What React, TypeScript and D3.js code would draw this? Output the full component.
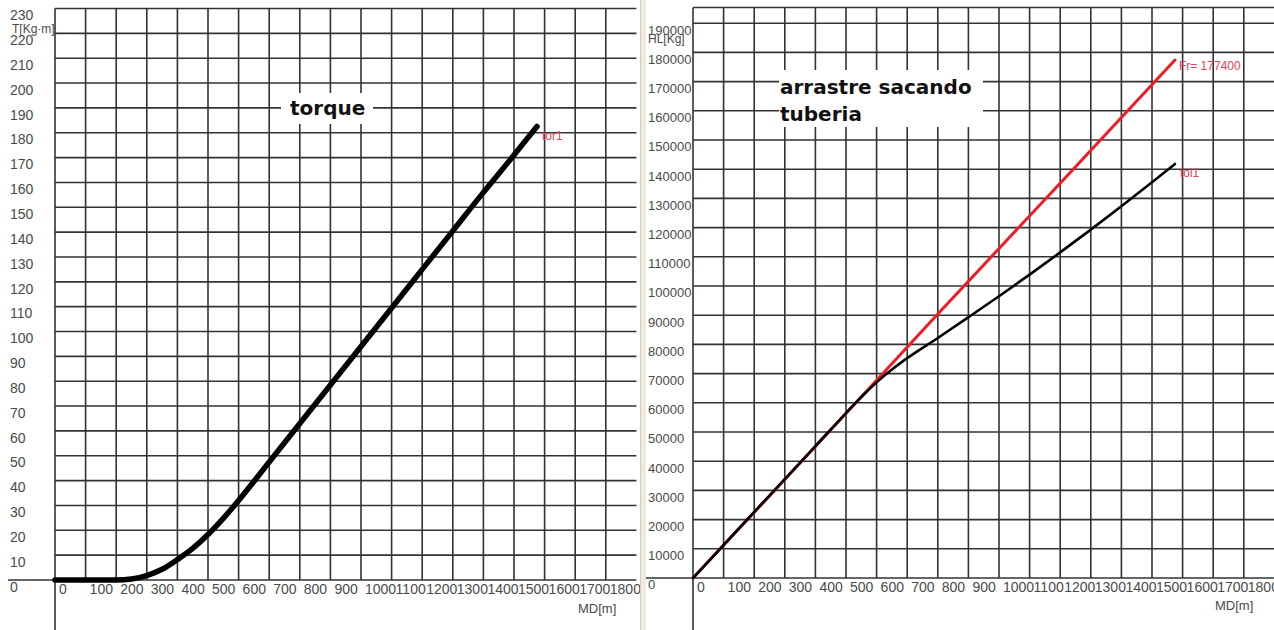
import React from "react";
import * as d3 from "d3";

// ---------- data ----------
const mdTicks = [0, 100, 200, 300, 400, 500, 600, 700, 800, 900, 1000, 1100, 1200, 1300, 1400, 1500, 1600, 1700, 1800];
const torqueTicks = [0, 10, 20, 30, 40, 50, 60, 70, 80, 90, 100, 110, 120, 130, 140, 150, 160, 170, 180, 190, 200, 210, 220, 230];
const hookTicks = [0, 10000, 20000, 30000, 40000, 50000, 60000, 70000, 80000, 90000, 100000, 110000, 120000, 130000, 140000, 150000, 160000, 170000, 180000, 190000];

const torqueMd = [0, 100, 200, 250, 300, 350, 400, 450, 500, 550, 600, 700, 800, 900, 1000, 1100, 1200, 1300, 1400, 1500, 1575];
const torqueVal = [0, 0, 0, 0.4, 1.8, 4.3, 8.2, 12.7, 18.3, 24.8, 32, 47.5, 63, 78.5, 94, 109.5, 125, 140.5, 156, 171, 182.5];

const dragMd = [0, 100, 200, 300, 400, 500, 550, 600, 650, 700, 800, 900, 1000, 1100, 1200, 1300, 1400, 1500, 1575];
const dragVal = [0, 11300, 22600, 33900, 45200, 56500, 62000, 67000, 71400, 75300, 82200, 89300, 96500, 103900, 111500, 119300, 127300, 135500, 141800];

const pullMd = [0, 400, 800, 1200, 1575];
const pullVal = [0, 45000, 90400, 135200, 177400];

const leftTitle = "torque";
const rightTitle = ["arrastre sacando", "tuberia"];
const leftYTitle = "T[Kg·m]";
const rightYTitle = "HL[Kg]";
const xTitle = "MD[m]";
const torqueLabel = "tor1";
const dragLabel = "tol1";
const pullLabel = "Fr= 177400";

// ---------- styles ----------
const GRID = "#333";
const GW = 1.6;
const LABEL = "#4a4a4a";
const labelFont = "'Liberation Sans', Arial, sans-serif";
const titleFont = "'DejaVu Sans', Verdana, sans-serif";

export default function App() {
  const xL = d3.scaleLinear().domain([0, 1900]).range([55, 636.4]);
  const yL = d3.scaleLinear().domain([0, 230]).range([580, 8.5]);
  const xR = d3.scaleLinear().domain([0, 1900]).range([693, 1274.4]);
  const yR = d3.scaleLinear().domain([0, 190000]).range([578, 23.2]);

  const lineL = d3
    .line<number>()
    .x((_, i) => xL(torqueMd[i]))
    .y((d) => yL(d))
    .curve(d3.curveMonotoneX);
  const lineDrag = d3
    .line<number>()
    .x((_, i) => xR(dragMd[i]))
    .y((d) => yR(d))
    .curve(d3.curveMonotoneX);
  const linePull = d3
    .line<number>()
    .x((_, i) => xR(pullMd[i]))
    .y((d) => yR(d))
    .curve(d3.curveMonotoneX);

  const lastT = torqueVal.length - 1;
  const lastD = dragVal.length - 1;
  const lastP = pullVal.length - 1;

  return (
    <svg
      width={1274}
      height={630}
      style={{ position: "absolute", left: 0, top: 0, background: "#fff" }}
    >
      <rect x={0} y={0} width={1274} height={630} fill="#fff" />

      {/* ================= LEFT CHART ================= */}
      <g>
        {torqueTicks.slice(1).map((t) => (
          <line key={"lh" + t} x1={xL(0)} x2={xL(1900)} y1={yL(t)} y2={yL(t)} stroke={GRID} strokeWidth={GW} />
        ))}
        {mdTicks.slice(1).map((t) => (
          <line key={"lv" + t} x1={xL(t)} x2={xL(t)} y1={yL(230)} y2={yL(0)} stroke={GRID} strokeWidth={GW} />
        ))}
        <line x1={8} x2={xL(1900)} y1={yL(0)} y2={yL(0)} stroke={GRID} strokeWidth={GW} />
        <line x1={xL(0)} x2={xL(0)} y1={yL(230)} y2={630} stroke={GRID} strokeWidth={GW} />

        <rect x={281} y={93} width={92} height={31} fill="#fff" />
        <text x={290} y={115} fontFamily={titleFont} fontWeight="bold" fontSize={20} fill="#111">
          {leftTitle}
        </text>

        {torqueTicks.map((t) => (
          <text key={"lyl" + t} x={10} y={yL(t) + 8} dominantBaseline="middle" fontFamily={labelFont} fontSize={14} fill={LABEL}>
            {t}
          </text>
        ))}
        <text x={12} y={30} dominantBaseline="middle" fontFamily={labelFont} fontSize={12} fill={LABEL}>
          {leftYTitle}
        </text>
        {mdTicks.map((t) => (
          <text key={"lxl" + t} x={xL(t) + 4} y={yL(0) + 10} dominantBaseline="middle" fontFamily={labelFont} fontSize={14} fill={LABEL}>
            {t}
          </text>
        ))}
        <text x={578} y={610} dominantBaseline="middle" fontFamily={labelFont} fontSize={13} fill={LABEL}>
          {xTitle}
        </text>

        <path d={lineL(torqueVal) || ""} fill="none" stroke="#000" strokeWidth={5.5} strokeLinecap="round" strokeLinejoin="round" />
        <text x={xL(torqueMd[lastT]) + 5} y={yL(torqueVal[lastT]) + 10} dominantBaseline="middle" fontFamily={labelFont} fontSize={12} fill="#e8405a">
          {torqueLabel}
        </text>
      </g>

      {/* divider */}
      <rect x={640} y={0} width={6} height={630} fill="#efebdc" />
      <line x1={640.5} x2={640.5} y1={0} y2={630} stroke="#d6d1bc" strokeWidth={1} />

      {/* ================= RIGHT CHART ================= */}
      <g>
        {hookTicks.slice(1).map((t) => (
          <line key={"rh" + t} x1={xR(0)} x2={1274} y1={yR(t)} y2={yR(t)} stroke={GRID} strokeWidth={GW} />
        ))}
        <line x1={xR(0)} x2={1274} y1={7.5} y2={7.5} stroke={GRID} strokeWidth={GW} />
        {mdTicks.slice(1).map((t) => (
          <line key={"rv" + t} x1={xR(t)} x2={xR(t)} y1={7.5} y2={yR(0)} stroke={GRID} strokeWidth={GW} />
        ))}
        <line x1={646} x2={1274} y1={yR(0)} y2={yR(0)} stroke={GRID} strokeWidth={GW} />
        <line x1={xR(0)} x2={xR(0)} y1={7.5} y2={630} stroke={GRID} strokeWidth={GW} />

        <rect x={779} y={70} width={204} height={57} fill="#fff" />
        <text fontFamily={titleFont} fontWeight="bold" fontSize={20} fill="#111">
          <tspan x={780} y={94}>{rightTitle[0]}</tspan>
          <tspan x={780} y={121}>{rightTitle[1]}</tspan>
        </text>

        {hookTicks.map((t) => (
          <text key={"ryl" + t} x={648} y={yR(t) + 8} dominantBaseline="middle" fontFamily={labelFont} fontSize={13} fill={LABEL}>
            {t}
          </text>
        ))}
        <text x={648} y={40} dominantBaseline="middle" fontFamily={labelFont} fontSize={12} fill={LABEL}>
          {rightYTitle}
        </text>
        {mdTicks.map((t) => (
          <text key={"rxl" + t} x={xR(t) + 4} y={yR(0) + 10} dominantBaseline="middle" fontFamily={labelFont} fontSize={14} fill={LABEL}>
            {t}
          </text>
        ))}
        <text x={1215} y={607} dominantBaseline="middle" fontFamily={labelFont} fontSize={13} fill={LABEL}>
          {xTitle}
        </text>

        <path d={linePull(pullVal) || ""} fill="none" stroke="#ee1c24" strokeWidth={3} strokeLinecap="round" />
        <path d={lineDrag(dragVal) || ""} fill="none" stroke="#000" strokeWidth={2.6} strokeLinecap="round" />

        <text x={xR(pullMd[lastP]) + 4} y={yR(pullVal[lastP]) + 7} dominantBaseline="middle" fontFamily={labelFont} fontSize={12} fill="#e8405a">
          {pullLabel}
        </text>
        <text x={xR(dragMd[lastD]) + 5} y={yR(dragVal[lastD]) + 10} dominantBaseline="middle" fontFamily={labelFont} fontSize={12} fill="#e8405a">
          {dragLabel}
        </text>
      </g>
    </svg>
  );
}
